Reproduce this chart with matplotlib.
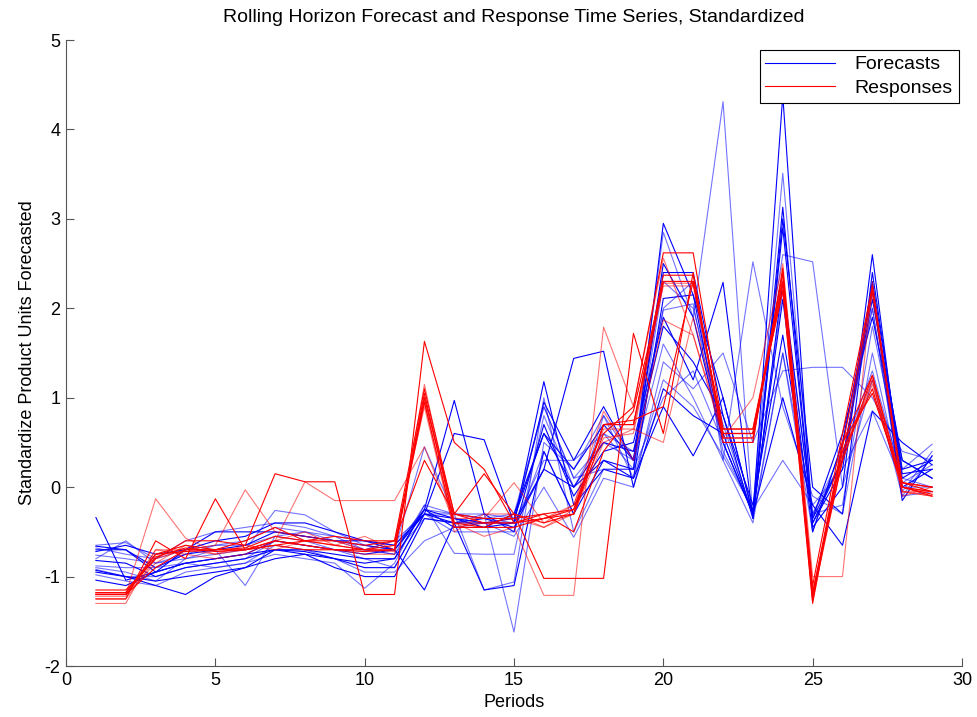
import numpy as np
import matplotlib
matplotlib.use("Agg")
import matplotlib.pyplot as plt

plt.rcParams['font.family'] = ['Liberation Sans', 'DejaVu Sans']
plt.rcParams['axes.unicode_minus'] = False

periods = list(range(1, 30))

# forecast series (blue), one list per rolling horizon
forecasts = [
    [-0.34, -1.04, -0.95, -0.85, -0.8, -0.75, -0.7, -0.72, -0.8, -0.85, -0.8, -0.25, -0.35, -0.4, -0.35, 0.6, 0.0, 0.3, 0.2, 2.95, 2.15, 0.5, -0.3, 3.13, -0.4, 0.3, 2.2, 0.1, 0.3],
    [-0.65, -0.62, -0.8, -0.6, -0.5, -0.45, -0.4, -0.45, -0.55, -0.7, -0.75, -0.2, -0.3, -0.35, -0.3, 0.9, 0.1, 0.5, 0.3, 2.85, 1.9, 4.31, -0.35, 1.5, -0.5, 0.5, 2.0, -0.1, 0.35],
    [-0.7, -0.7, -0.9, -0.75, -0.7, -0.65, -0.5, -0.55, -0.6, -0.65, -0.7, -0.3, -0.4, -0.4, -0.4, 1.18, -0.2, 0.2, 0.1, 2.11, 2.15, 1.0, -0.3, 4.38, -0.45, 0.0, 2.6, 0.0, 0.2],
    [-0.76, -0.8, -0.85, -0.8, -0.75, -0.7, -0.26, -0.31, -0.5, -0.65, -0.7, 0.45, -0.3, -0.35, -0.4, 0.3, 0.3, 0.6, 0.4, 1.98, 2.05, 0.4, -0.25, 3.51, -0.3, -0.2, 1.8, 0.2, 0.48],
    [-0.82, -0.85, -1.0, -0.9, -0.85, -0.8, -0.7, -0.7, -0.75, -0.8, -0.8, -0.25, 0.97, -0.3, -0.5, 0.7, -0.1, 0.4, 0.5, 1.9, 1.2, 2.29, -0.35, 2.3, -0.35, 0.3, 2.1, 0.3, 0.1],
    [-0.9, -0.95, -1.05, -0.8, -0.7, -1.1, -0.55, -0.5, -0.6, -0.7, -0.75, -0.35, -0.4, -0.3, -1.62, 0.5, 0.2, 0.8, 0.3, 1.6, 1.0, 0.3, 2.52, 0.9, -0.1, -0.3, 1.5, 0.0, 0.0],
    [-0.93, -1.0, -1.1, -1.2, -1.0, -0.9, -0.8, -0.75, -0.8, -0.9, -0.9, -0.3, 0.6, 0.53, -0.4, 0.2, 1.44, 1.52, 0.0, 1.1, 0.8, 0.6, -0.3, 2.1, -0.5, 0.5, 2.2, -0.15, 0.35],
    [-0.98, -1.05, -1.1, -0.95, -0.9, -0.85, -0.75, -0.8, -0.85, -1.13, -0.85, -0.2, -0.74, -0.75, -0.75, 0.8, 0.0, 0.6, 0.2, 1.0, 1.3, 0.5, 0.5, 1.3, 1.34, 1.34, 1.0, 0.4, 0.3],
    [-1.04, -1.1, -0.95, -0.85, -0.8, -0.75, -0.6, -0.65, -0.7, -0.75, -0.7, -1.15, -0.4, -1.15, -1.1, 0.4, -0.3, 0.3, 0.1, 0.9, 0.35, 1.0, -0.3, 1.0, -0.2, -0.65, 0.85, 0.5, 0.25],
    [-0.68, -0.75, -0.8, -0.7, -0.65, -0.6, -0.45, -0.5, -0.55, -0.6, -0.65, -0.25, -0.3, -1.15, -1.06, 1.0, -0.5, 0.2, 0.2, 2.0, 2.3, 0.3, -0.4, 1.5, -0.3, 0.4, 1.3, 0.1, 0.0],
    [-0.72, -0.65, -0.75, -0.7, -0.6, -0.55, -0.4, -0.4, -0.5, -0.6, -0.65, -0.3, -0.35, -0.45, -0.3, 0.6, 0.2, 0.7, 0.3, 2.5, 1.9, 0.5, -0.3, 2.9, -0.4, 0.2, 2.3, 0.2, 0.3],
    [-0.88, -0.9, -0.9, -0.85, -0.9, -0.85, -0.65, -0.7, -0.8, -0.95, -0.95, -0.6, -0.45, -0.4, -0.55, 0.0, -0.56, 0.1, 0.0, 1.4, 1.1, 1.5, 0.5, 2.6, 2.52, 0.0, 1.2, -0.1, -0.05],
    [-0.95, -1.0, -1.05, -1.0, -0.95, -0.9, -0.7, -0.75, -0.9, -1.0, -1.0, -0.35, -0.4, -0.35, -0.45, 0.2, 0.0, 0.5, 0.4, 1.8, 1.4, 0.8, -0.2, 1.7, -0.35, 0.6, 1.9, 0.3, 0.1],
    [-0.8, -0.6, -0.85, -0.75, -0.65, -0.65, -0.55, -0.6, -0.7, -0.7, -0.6, -0.3, -0.3, -0.3, -0.35, 0.9, 0.1, 0.2, 0.2, 2.3, 2.0, 0.7, -0.3, 2.2, -0.3, 0.3, 2.0, -0.05, 0.4],
    [-0.66, -0.7, -0.95, -0.7, -0.5, -0.5, -0.5, -0.55, -0.6, -0.6, -0.7, -0.25, -0.45, -0.45, -0.4, 0.95, 0.3, 0.9, 0.3, 2.4, 2.4, 0.8, -0.35, 3.0, 0.0, -0.3, 2.4, 0.15, 0.2],
    [-0.92, -1.0, -1.0, -0.9, -0.85, -0.8, -0.6, -0.65, -0.7, -0.8, -0.9, -0.3, -0.5, -0.5, -0.5, 0.4, -0.3, 0.8, 0.1, 1.2, 0.9, 0.35, -0.25, 0.3, -0.2, 0.2, 0.85, 0.05, 0.25],
]

# response series (red)
responses = [
    [-1.18, -1.18, -0.75, -0.72, -0.7, -0.68, -0.55, -0.6, -0.65, -0.7, -0.7, 1.0, -0.3, -0.35, -0.35, -0.3, -0.25, 0.7, 0.7, 2.3, 2.3, 0.6, 0.6, 2.3, -1.2, 0.4, 1.1, 0.0, -0.05],
    [-1.2, -1.2, -0.13, -0.57, -0.72, -0.7, -0.6, -0.65, -0.7, -0.75, -0.75, 1.15, -0.4, -0.4, -0.4, -0.35, -0.2, 0.65, 0.65, 2.25, 2.25, 0.55, 0.55, 2.4, -1.25, 0.3, 1.2, -0.05, -0.1],
    [-1.25, -1.25, -0.6, -0.8, -0.13, -0.7, -0.65, -0.7, -0.7, -0.7, -0.65, 0.95, -0.45, -0.45, -0.3, -0.4, -0.3, 0.6, 0.9, 2.62, 2.62, 0.65, 0.65, 2.2, -1.3, 0.5, 1.25, 0.05, 0.0],
    [-1.3, -1.3, -0.7, -0.7, -0.65, -0.03, -0.5, -0.55, -0.6, -0.7, -0.6, 0.9, -0.5, -0.3, -0.3, -0.45, -0.25, 0.55, 0.6, 2.28, 2.28, 0.65, 0.65, 2.35, -1.2, 0.35, 1.15, 0.0, -0.05],
    [-1.15, -1.15, -0.8, -0.6, -0.6, -0.65, 0.15, 0.06, 0.06, -1.2, -1.2, 1.63, 0.5, 0.2, -0.4, -0.35, -0.3, 0.7, 0.7, 2.37, 2.37, 0.55, 0.55, 2.3, -1.25, 0.45, 2.2, 0.05, 0.0],
    [-1.2, -1.2, -0.85, -0.65, -0.75, -0.7, -0.6, 0.06, -0.15, -0.15, -0.15, 0.45, -0.4, -0.55, -0.45, -1.21, -1.21, 1.79, 0.9, 2.56, 1.7, 0.6, 0.6, 2.25, -1.15, 0.3, 2.15, -0.05, -0.05],
    [-1.2, -1.2, -0.9, -0.7, -0.7, -0.7, -0.65, -0.6, -0.55, -0.6, -0.6, 1.1, -0.3, 0.15, -0.3, -1.02, -1.02, -1.02, 1.72, 0.6, 2.4, 0.5, 0.5, 2.45, -1.1, 0.6, 2.25, 0.0, -0.1],
    [-1.22, -1.22, -0.7, -0.75, -0.8, -0.75, -0.6, -0.5, -0.65, -0.55, -0.7, 1.0, -0.35, -0.35, 0.05, -0.4, -0.2, 0.85, 0.3, 1.87, 1.7, 0.55, 1.0, 2.5, -1.0, -1.0, 2.3, -0.1, 0.0],
    [-1.18, -1.18, -0.75, -0.65, -0.7, -0.6, -0.45, -0.6, -0.6, -0.65, -0.6, 0.3, -0.3, -0.4, -0.4, -0.3, -0.5, 0.4, 0.85, 2.3, 2.3, 0.6, 0.6, 2.3, -1.2, 0.5, 1.05, 0.05, -0.05],
    [-1.25, -1.25, -0.8, -0.7, -0.75, -0.65, -0.7, -0.6, -0.65, -0.7, -0.72, 0.95, -0.45, -0.4, -0.35, -0.45, -0.3, 0.5, 0.65, 0.5, 1.9, 0.65, 0.65, 2.2, -1.28, 0.4, 1.2, -0.05, -0.1],
    [-1.2, -1.2, -0.78, -0.68, -0.72, -0.7, -0.6, -0.65, -0.7, -0.72, -0.7, 1.05, -0.4, -0.45, -0.45, -0.35, -0.25, 0.7, 0.75, 0.9, 2.3, 0.6, 0.6, 2.4, -1.2, 0.3, 1.25, 0.0, -0.08],
]

fig = plt.figure(figsize=(9.77, 7.17), dpi=100)
ax = fig.add_axes([0.0676, 0.0711, 0.917, 0.8731])

for i, f in enumerate(forecasts):
    ax.plot(periods, f, color='#0000ff', lw=0.8, alpha=1.0 if i % 2 == 0 else 0.55,
            label='Forecasts' if i == 0 else None)
for i, r in enumerate(responses):
    ax.plot(periods, r, color='#ff0000', lw=0.8, alpha=1.0 if i % 2 == 0 else 0.55,
            label='Responses' if i == 0 else None)

ax.set_xlim(0, 30)
ax.set_ylim(-2, 5)
ax.set_xticks(range(0, 31, 5))
ax.set_yticks(range(-2, 6))
ax.spines['top'].set_visible(False)
ax.spines['right'].set_visible(False)
for s in ('left', 'bottom'):
    ax.spines[s].set_color('#555555')
    ax.spines[s].set_linewidth(0.8)
ax.tick_params(direction='in', length=6, width=0.8, color='#555555', labelsize=13, pad=4)

ax.set_title('Rolling Horizon Forecast and Response Time Series, Standardized', fontsize=14, pad=13)
ax.set_xlabel('Periods', fontsize=13, labelpad=4)
ax.set_ylabel('Standardize Product Units Forecasted', fontsize=13, labelpad=6)

leg = ax.legend(loc='upper right', bbox_to_anchor=(0.9965, 0.984), fontsize=14, fancybox=False,
                framealpha=1, edgecolor='black', borderpad=0.3, handlelength=3.6,
                handletextpad=1.0, labelspacing=0.3, borderaxespad=0)
leg.get_frame().set_linewidth(0.8)
for h in leg.get_lines():
    h.set_alpha(1.0)

fig.savefig('out.png', dpi=100)
